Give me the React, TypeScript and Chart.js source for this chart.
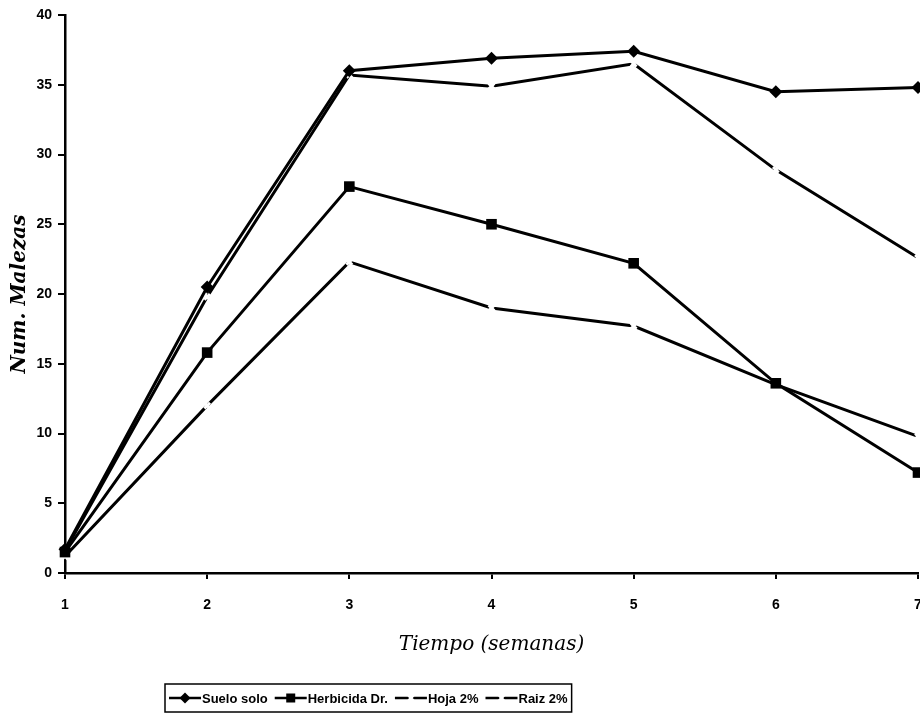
import React, { useEffect, useRef } from "react";
import { Chart, registerables } from "chart.js";

Chart.register(...registerables);

// ---- data ----
const weeks = [1, 2, 3, 4, 5, 6, 7];
const sueloSolo = [1.7, 20.5, 36.0, 36.9, 37.4, 34.5, 34.8];
const herbicidaDr = [1.5, 15.8, 27.7, 25.0, 22.2, 13.6, 7.2];
const hoja2 = [1.6, 19.8, 35.7, 34.9, 36.5, 28.9, 22.6];
const raiz2 = [1.2, 12.0, 22.3, 19.0, 17.7, 13.5, 9.8];
const seriesLabels = ["Suelo solo", "Herbicida Dr.", "Hoja 2%", "Raiz 2%"];
const xTitle = "Tiempo (semanas)";
const yTitle = "Num. Malezas";

const toPts = (vals: number[]) => weeks.map((w, i) => ({ x: w, y: vals[i] }));

const legendFont = "bold 13px 'Liberation Sans', Arial, sans-serif";

const boxLegend = {
  id: "boxLegend",
  afterDraw(chart: any) {
    const ctx: CanvasRenderingContext2D = chart.ctx;
    ctx.save();
    ctx.font = legendFont;
    const sample = 32;
    const gapText = 1;
    const gapItem = 7;
    const padX = 4;
    const widths = seriesLabels.map((t) => ctx.measureText(t).width);
    let total = padX * 2 + gapItem * (seriesLabels.length - 1);
    widths.forEach((w) => (total += sample + gapText + w));
    const left = Math.round(368 - total / 2);
    const top = 684;
    const h = 28;
    ctx.strokeStyle = "#000";
    ctx.lineWidth = 1.5;
    ctx.strokeRect(left, top, total, h);
    const cy = top + h / 2;
    let x = left + padX;
    seriesLabels.forEach((label, i) => {
      ctx.strokeStyle = "#000";
      ctx.lineWidth = 2.5;
      ctx.beginPath();
      ctx.moveTo(x, cy);
      ctx.lineTo(x + sample, cy);
      ctx.stroke();
      const mx = x + sample / 2;
      ctx.fillStyle = "#000";
      if (i === 0) {
        ctx.beginPath();
        ctx.moveTo(mx, cy - 5.5);
        ctx.lineTo(mx + 5.5, cy);
        ctx.lineTo(mx, cy + 5.5);
        ctx.lineTo(mx - 5.5, cy);
        ctx.closePath();
        ctx.fill();
      } else if (i === 1) {
        ctx.fillRect(mx - 4.5, cy - 4.5, 9, 9);
      } else {
        ctx.strokeStyle = "#fff";
        ctx.lineWidth = 3;
        ctx.beginPath();
        ctx.moveTo(mx - 3, cy - 4);
        ctx.lineTo(mx + 3, cy + 4);
        ctx.moveTo(mx + 3, cy - 4);
        ctx.lineTo(mx - 3, cy + 4);
        ctx.stroke();
      }
      ctx.fillStyle = "#000";
      ctx.textBaseline = "middle";
      ctx.textAlign = "left";
      ctx.fillText(label, x + sample + gapText, cy + 1);
      x += sample + gapText + widths[i] + gapItem;
    });
    ctx.restore();
  },
};

export default function App() {
  const ref = useRef<HTMLCanvasElement | null>(null);
  useEffect(() => {
    if (!ref.current) return;
    const tickFont = { family: "'Liberation Sans', Arial, sans-serif", weight: "bold" as const, size: 14 };
    const lineDs = (label: string, vals: number[], extra: any) => ({
      label,
      data: toPts(vals),
      borderColor: "#000",
      backgroundColor: "#000",
      borderWidth: 3,
      tension: 0,
      clip: false as any,
      ...extra,
    });
    const chart = new Chart(ref.current, {
      type: "line",
      data: {
        datasets: [
          lineDs(seriesLabels[0], sueloSolo, {
            pointStyle: "rectRot",
            pointRadius: 6.5,
            pointBorderWidth: 0,
            pointBackgroundColor: "#000",
          }),
          lineDs(seriesLabels[1], herbicidaDr, {
            pointStyle: "rect",
            pointRadius: 7.5,
            pointBorderWidth: 0,
            pointBackgroundColor: "#000",
          }),
          lineDs(seriesLabels[2], hoja2, {
            pointStyle: "crossRot",
            pointRadius: 4,
            pointBorderColor: "#fff",
            pointBorderWidth: 3,
          }),
          lineDs(seriesLabels[3], raiz2, {
            pointStyle: "crossRot",
            pointRadius: 4,
            pointBorderColor: "#fff",
            pointBorderWidth: 3,
          }),
        ],
      },
      options: {
        responsive: false,
        animation: false,
        devicePixelRatio: 1,
        layout: { autoPadding: false, padding: { top: 15, right: 2, bottom: 0, left: 0 } },
        plugins: { legend: { display: false }, tooltip: { enabled: false } },
        scales: {
          x: {
            type: "linear",
            min: 1,
            max: 7,
            ticks: { stepSize: 1, color: "#000", font: tickFont, padding: 18, maxRotation: 0 },
            grid: { display: true, drawOnChartArea: false, drawTicks: true, tickLength: 6, color: "#000", lineWidth: 2 },
            border: { display: true, color: "#000", width: 2.5 },
            title: {
              display: true,
              text: xTitle,
              color: "#000",
              font: { family: "'DejaVu Serif', serif", style: "italic", size: 20 },
              padding: { top: 0, bottom: 66 },
            },
            afterFit: (s: any) => {
              s.height = 150;
              s.paddingLeft = 0;
              s.paddingRight = 0;
            },
          },
          y: {
            type: "linear",
            min: 0,
            max: 40,
            ticks: { stepSize: 5, color: "#000", font: tickFont, padding: 6 },
            grid: { display: true, drawOnChartArea: false, drawTicks: true, tickLength: 7, color: "#000", lineWidth: 2 },
            border: { display: true, color: "#000", width: 2.5 },
            title: {
              display: true,
              text: yTitle,
              color: "#000",
              font: { family: "'DejaVu Serif', serif", style: "italic", weight: "bold", size: 20 },
              padding: { top: 8, bottom: 0 },
            },
            afterFit: (s: any) => {
              s.width = 65;
            },
          },
        },
      },
      plugins: [boxLegend],
    });
    return () => chart.destroy();
  }, []);
  return (
    <div style={{ position: "absolute", left: 0, top: 0, width: 920, height: 723, background: "#fff" }}>
      <canvas ref={ref} width={920} height={723} style={{ display: "block" }} />
    </div>
  );
}
